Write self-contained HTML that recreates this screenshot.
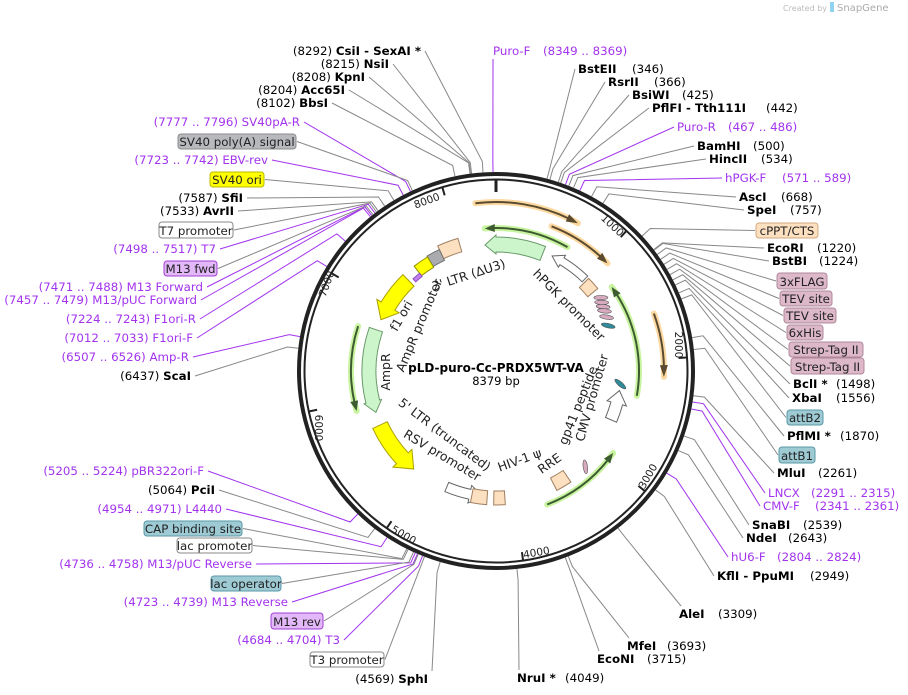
<!DOCTYPE html>
<html><head><meta charset="utf-8">
<style>
html,body{margin:0;padding:0;background:#fff;}
svg{display:block;font-family:"DejaVu Sans","Liberation Sans",sans-serif;font-size:11.8px;}
.b{font-weight:bold;}
</style></head>
<body>
<svg id="s" width="908" height="695" viewBox="0 0 908 695" xmlns="http://www.w3.org/2000/svg">
<g id="lines"></g>
<g id="feat"></g>
<circle cx="496" cy="371" r="197" fill="none" stroke="#222" stroke-width="4"/>
<circle cx="496" cy="371" r="191.5" fill="none" stroke="#222" stroke-width="2"/>
<line x1="496" y1="179" x2="496" y2="192" stroke="#222" stroke-width="3"/>
<g id="ticks"></g>
<g font-size="10.5" fill="#222">
<text transform="translate(428,204) rotate(-20)" text-anchor="middle">8000</text>
<text transform="translate(610,228) rotate(43)" text-anchor="middle">1000</text>
<text transform="translate(675,345) rotate(90)" text-anchor="middle">2000</text>
<text transform="translate(651,478) rotate(-60)" text-anchor="middle">3000</text>
<text transform="translate(537,556) rotate(-10)" text-anchor="middle">4000</text>
<text transform="translate(402,538) rotate(30)" text-anchor="middle">5000</text>
<text transform="translate(315,428) rotate(90)" text-anchor="middle">6000</text>
<text transform="translate(330,285) rotate(-70)" text-anchor="middle">7000</text>
</g>
<text x="496" y="372" text-anchor="middle" class="b" font-size="12">pLD-puro-Cc-PRDX5WT-VA</text>
<text x="496" y="385" text-anchor="middle" font-size="11.5">8379 bp</text>
<g font-size="12.5" fill="#222">
<text transform="translate(470,279) rotate(-18)" text-anchor="middle">3' LTR (ΔU3)</text>
<text transform="translate(566,308) rotate(45)" text-anchor="middle">hPGK promoter</text>
<text transform="translate(405,318) rotate(-60)" text-anchor="middle">f1 ori</text>
<text transform="translate(423,327) rotate(-67)" text-anchor="middle">AmpR promoter</text>
<text transform="translate(390,372) rotate(-90)" text-anchor="middle">AmpR</text>
<text transform="translate(442,438) rotate(37)" text-anchor="middle">5' LTR (truncated)</text>
<text transform="translate(440,459) rotate(31)" text-anchor="middle">RSV promoter</text>
<text transform="translate(521,464) rotate(-20)" text-anchor="middle">HIV-1 ψ</text>
<text transform="translate(552,467) rotate(-35)" text-anchor="middle">RRE</text>
<text transform="translate(582,407) rotate(-68)" text-anchor="middle">gp41 peptide</text>
<text transform="translate(596,399) rotate(-74)" text-anchor="middle">CMV promoter</text>
</g>
<g id="labels"></g>
<text x="783" y="11" font-size="8" fill="#bbb">Created by</text>
<rect x="830" y="2" width="4" height="10" fill="#8fd3f0"/>
<text x="837" y="11" font-size="10" fill="#aaa">SnapGene</text>
</svg>
<script>
var NS="http://www.w3.org/2000/svg",CX=496,CY=371,T=8379;
function rad(d){return d*Math.PI/180;}
function P(a,r){return [CX+r*Math.sin(rad(a)),CY-r*Math.cos(rad(a))];}
function bpA(b){return b/T*360;}
function el(tag,at,par,txt){var e=document.createElementNS(NS,tag);for(var k in at)e.setAttribute(k,at[k]);if(txt!=null)e.textContent=txt;document.getElementById(par).appendChild(e);return e;}
function arcD(r,a1,a2){var p1=P(a1,r),p2=P(a2,r);var sw=a2>a1?1:0;var lg=Math.abs(a2-a1)>180?1:0;return "M"+p1[0]+","+p1[1]+" A"+r+","+r+" 0 "+lg+" "+sw+" "+p2[0]+","+p2[1];}
for(var k=1;k<=8;k++){var a=bpA(k*1000),p1=P(a,191),p2=P(a,183);el("line",{x1:p1[0],y1:p1[1],x2:p2[0],y2:p2[1],stroke:"#222","stroke-width":2},"ticks");}
function thin(r,a1,a2,halo,line){el("path",{d:arcD(r,a1,a2),fill:"none",stroke:halo,"stroke-width":6,"stroke-linecap":"round"},"feat");
 var dir=a2>a1?1:-1;var e=a2-dir*3;el("path",{d:arcD(r,a1,e),fill:"none",stroke:line,"stroke-width":2},"feat");
 var t=P(a2,r),b1=P(a2-dir*4,r+4),b2=P(a2-dir*4,r-4);el("path",{d:"M"+t+" L"+b1+" L"+b2+" Z",fill:line},"feat");}
thin(169,-7,29,"#fcd9a0","#5a4a30");
thin(155,21,46,"#fcd9a0","#5a4a30");
thin(168,70,92,"#fcd9a0","#5a4a30");
thin(143,30,-4.5,"#c8f4a0","#3d5a30");
thin(143,100,54,"#c8f4a0","#3d5a30");
thin(143,159,125,"#c8f4a0","#3d5a30");
thin(145,288,254,"#c8f4a0","#3d5a30");
function fat(ri,ro,a1,a2,fill,stroke,hw,hl){var dir=a2>a1?1:-1;var h=a2-dir*hl;var rm=(ri+ro)/2;
 var d="M"+P(a1,ro)+" "+arcD(ro,a1,h).replace(/^M[^A]*/,"")+" L"+P(h,ro+hw)+" L"+P(a2,rm)+" L"+P(h,ri-hw)+" L"+P(h,ri)+" "+arcD(ri,h,a1).replace(/^M[^A]*/,"")+" Z";
 el("path",{d:d,fill:fill,stroke:stroke,"stroke-width":1},"feat");}
fat(119,134,21.7,-5,"#ccf5cc","#6a9a6a",2,5);
fat(120,134,289,251,"#ccf5cc","#6a9a6a",2,5);
fat(118,134,316,294,"#ffff00","#aaa000",5,7);
fat(120,136,245,220,"#ffff00","#aaa000",5,7);
fat(124,132,44,26,"#fff","#666",3,5);
fat(121,131,203,186,"#fff","#666",4,6);
fat(119,131,113,99,"#fff","#666",4,6);
function seg(ri,ro,a1,a2,fill,stroke){var d="M"+P(a1,ro)+" "+arcD(ro,a1,a2).replace(/^M[^A]*/,"")+" L"+P(a2,ri)+" "+arcD(ri,a2,a1).replace(/^M[^A]*/,"")+" Z";el("path",{d:d,fill:fill,stroke:stroke,"stroke-width":1},"feat");}
seg(124,138,335,344,"#fde0c0","#a08060");
seg(122,134,329,335,"#a9abae","#707070");
seg(121,133,322,329,"#ffff00","#909000");
seg(118,131,45,51,"#fde0c0","#a08060");
seg(120,134,184,191,"#fde0c0","#a08060");
seg(120,134,176,181,"#fde0c0","#a08060");
seg(120,134,146,153,"#fde0c0","#a08060");
seg(120,124,318,322,"#c080f0","#9050c0");
[[55,128,"#d8aac0"],[57,126,"#d8aac0"],[59,125,"#d8aac0"],[61,124,"#d8aac0"],[64,123,"#d8aac0"],[68,121,"#2f8a9a"],[96,125,"#2f8a9a"],[137,131,"#d8aac0"]].forEach(function(q){var p=P(q[0],q[1]);el("ellipse",{cx:p[0],cy:p[1],rx:7,ry:2.2,fill:q[2],stroke:"#555","stroke-width":0.6,transform:"rotate("+(q[0]-90+35)+" "+p[0]+" "+p[1]+")"},"feat");});
var PC="#a233ee";
function lead(ax,ay,bp,col){var a=bpA(bp),p1=P(a,210),p2=P(a,199);el("polyline",{points:ax+","+ay+" "+p1[0]+","+p1[1]+" "+p2[0]+","+p2[1],fill:"none",stroke:col?PC:"#888","stroke-width":1},"lines");}
var L=[["(8292)","CsiI  - SexAI *",421,55,8292],["(8215)","NsiI",389,68,8215],["(8208)","KpnI",365,81,8208],["(8204)","Acc65I",345,94,8204],["(8102)","BbsI",328,107,8102],
["(7777 .. 7796)","SV40pA-R",300,126,7786,1],["(7723 .. 7742)","EBV-rev",268,164,7732,1],["(7587)","SfiI",243,202,7587],["(7533)","AvrII",234,215,7533],
["(7498 .. 7517)","T7",216,253,7507,1],["(7471 .. 7488)","M13 Forward",203,291,7480,1],["(7457 .. 7479)","M13/pUC Forward",197,304,7468,1],["(7224 .. 7243)","F1ori-R",196,323,7233,1],
["(7012 .. 7033)","F1ori-F",193,342,7022,1],["(6507 .. 6526)","Amp-R",189,361,6516,1],["(6437)","ScaI",191,380,6437],["(5205 .. 5224)","pBR322ori-F",204,475,5214,1],
["(5064)","PciI",215,494,5064],["(4954 .. 4971)","L4440",222,513,4962,1],["(4736 .. 4758)","M13/pUC Reverse",252,568,4747,1],["(4723 .. 4739)","M13 Reverse",288,606,4731,1],
["(4684 .. 4704)","T3",340,644,4694,1],["(4569)","SphI",428,683,4569]];
L.forEach(function(q){var t=el("text",{x:q[2],y:q[3],"text-anchor":"end","xml:space":"preserve"},"labels");if(q[5])t.setAttribute("fill",PC);
 var s1=document.createElementNS(NS,"tspan");s1.textContent=q[0]+"  ";t.appendChild(s1);var s2=document.createElementNS(NS,"tspan");s2.textContent=q[1];if(!q[5])s2.setAttribute("font-weight","bold");t.appendChild(s2);
 if(q[4]==4569)lead(q[2]+4,q[3]-12,q[4]);else lead(q[2]+4,q[3]-4,q[4],q[5]);});
var R=[["Puro-F",493,"(8349 .. 8369)",543,55,8359,1],["BstEII",578,"(346)",632,73,346],["RsrII",608,"(366)",654,86,366],["BsiWI",632,"(425)",682,99,425],["PflFI   - Tth111I",652,"(442)",766,112,442],
["Puro-R",677,"(467 .. 486)",728,131,476,1],["BamHI",697,"(500)",753,150,500],["HincII",709,"(534)",761,163,534],["hPGK-F",725,"(571 .. 589)",782,182,580,1],["AscI",739,"(668)",781,201,668],
["SpeI",747,"(757)",790,214,757],["EcoRI",767,"(1220)",817,252,1220],["BstBI",772,"(1224)",819,265,1224],["BclI *",793,"(1498)",836,388,1498],["XbaI",792,"(1556)",836,402,1556],
["PflMI *",787,"(1870)",840,440,1870],["MluI",777,"(2261)",818,477,2261],["LNCX",768,"(2291 .. 2315)",811,497,2303,1],["CMV-F",763,"(2341 .. 2361)",815,510,2351,1],
["SnaBI",752,"(2539)",803,529,2539],["NdeI",746,"(2643)",788,542,2643],["hU6-F",731,"(2804 .. 2824)",777,561,2814,1],["KflI   - PpuMI",717,"(2949)",810,580,2949],
["AleI",679,"(3309)",718,618,3309],["MfeI",627,"(3693)",667,650,3693],["EcoNI",597,"(3715)",647,663,3715],["NruI *",517,"(4049)",565,682,4049]];
R.forEach(function(q){var t=el("text",{x:q[1],y:q[4],"xml:space":"preserve"},"labels",null);if(q[6])t.setAttribute("fill",PC);
 var s1=document.createElementNS(NS,"tspan");s1.textContent=q[0];if(!q[6])s1.setAttribute("font-weight","bold");t.appendChild(s1);
 var s2=document.createElementNS(NS,"tspan");s2.setAttribute("x",q[3]);s2.textContent=q[2];t.appendChild(s2);
 if(q[5]==8359)lead(493,59,8359,1);else if(q[4]>600)lead(q[1]+2,q[4]-12,q[5]);else lead(q[1]-3,q[4]-4,q[5],q[6]);});
var B=[["SV40 poly(A) signal",178,296,135,148,7800,"#b7b9bc","#8a8c8e",1],["SV40 ori",210,264,173,186,7660,"#ffff00","#b8b800",1],["T7 promoter",159,233,223,237,7520,"#fff","#888",1],
["M13 fwd",164,217,262,275,7490,"#e2b8f8","#a040d0",1],["CAP binding site",144,242,522,535,4810,"#9ecad4","#5a98a8",1],["lac promoter",177,252,539,552,4800,"#fff","#888",1],
["lac operator",211,281,577,590,4760,"#9ecad4","#5a98a8",1],["M13 rev",271,323,614,628,4725,"#e2b8f8","#a040d0",1],["T3 promoter",310,384,653,666,4680,"#fff","#888",1],
["cPPT/CTS",756,818,224,237,1100,"#fde0c0","#d0a880",0],["3xFLAG",777,827,274,288,1260,"#dcb8c8","#b08898",0],["TEV site",780,832,292,305,1300,"#dcb8c8","#b08898",0],
["TEV site",784,836,309,322,1340,"#dcb8c8","#b08898",0],["6xHis",787,823,326,339,1380,"#dcb8c8","#b08898",0],["Strep-Tag II",789,863,343,356,1420,"#dcb8c8","#b08898",0],
["Strep-Tag II",791,864,359,373,1460,"#dcb8c8","#b08898",0],["attB2",787,823,411,424,1600,"#9ecad4","#5a98a8",0],["attB1",779,815,448,462,1950,"#9ecad4","#5a98a8",0]];
B.forEach(function(q){el("rect",{x:q[1],y:q[3]-1,width:q[2]-q[1],height:q[4]-q[3]+2,rx:3,fill:q[6],stroke:q[7],"stroke-width":1},"labels");
 el("text",{x:(q[1]+q[2])/2,y:q[4]-2,"text-anchor":"middle",fill:"#222"},"labels",q[0]);
 var my=(q[3]+q[4])/2;if(q[8])lead(q[2]+1,my,q[5]);else lead(q[1]-1,my,q[5]);});
</script>
</body></html>
